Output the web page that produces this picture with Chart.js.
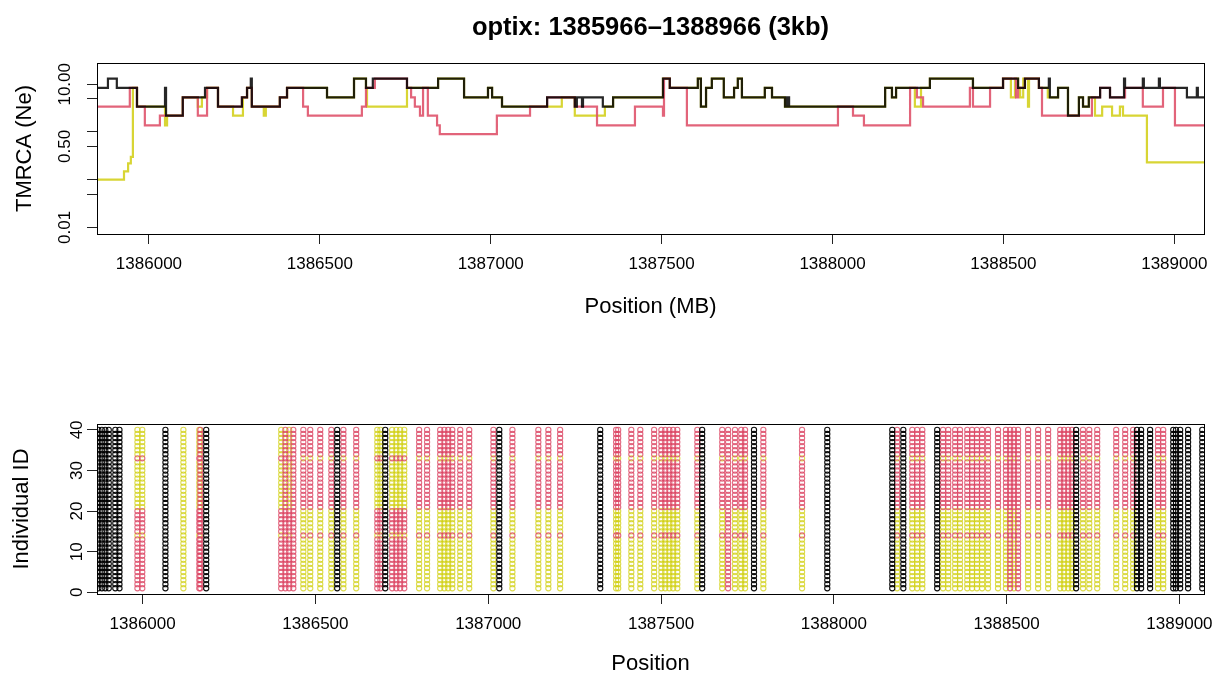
<!DOCTYPE html>
<html>
<head>
<meta charset="utf-8">
<script src="https://cdn.jsdelivr.net/npm/chart.js@4.4.1/dist/chart.umd.min.js"></script>
<style>
  body { margin: 0; background: #fff; }
  #top { position: absolute; left: 0; top: 0; }
  #bot { position: absolute; left: 0; top: 340px; }
</style>
</head>
<body>
<canvas id="top" width="1223" height="340"></canvas>
<canvas id="bot" width="1223" height="337"></canvas>
<script>
// TMRCA step lines: [start position, TMRCA]
const blackSteps = [[1385848,8.4],[1385880,13.1],[1385906,8.4],[1385965,3.4],[1386047,8.4],[1386050,2.2],[1386099,5.3],[1386164,8.4],[1386202,3.4],[1386272,5.3],[1386287,8.4],[1386298,13.1],[1386301,3.4],[1386383,5.3],[1386404,8.4],[1386521,5.3],[1386600,13.1],[1386635,8.4],[1386655,13.1],[1386755,8.4],[1386846,13.1],[1386922,5.3],[1386992,8.4],[1387004,5.3],[1387033,3.4],[1387165,5.3],[1387246,3.4],[1387252,5.3],[1387267,3.4],[1387270,5.3],[1387328,3.4],[1387358,5.3],[1387504,13.1],[1387524,8.4],[1387606,13.1],[1387615,3.4],[1387630,8.4],[1387647,13.1],[1387682,5.3],[1387712,8.4],[1387723,13.1],[1387735,5.3],[1387802,8.4],[1387823,5.3],[1387861,3.4],[1387867,5.3],[1387873,3.4],[1388154,8.4],[1388174,5.3],[1388186,8.4],[1388285,13.1],[1388411,8.4],[1388499,13.1],[1388543,8.4],[1388563,13.1],[1388604,8.4],[1388633,13.1],[1388636,5.3],[1388660,8.4],[1388689,2.2],[1388721,5.3],[1388733,3.4],[1388750,5.3],[1388783,8.4],[1388812,5.3],[1388853,13.1],[1388856,8.4],[1388908,13.1],[1388911,8.4],[1388955,13.1],[1388958,8.4],[1389037,5.3],[1389066,8.4],[1389069,5.3],[1389087,5.3]];
const redSteps = [[1385848,3.4],[1385944,8.4],[1385965,3.4],[1385988,1.38],[1386032,2.2],[1386099,5.3],[1386143,2.2],[1386170,8.4],[1386202,3.4],[1386272,5.3],[1386287,8.4],[1386301,3.4],[1386383,5.3],[1386404,8.4],[1386451,3.4],[1386465,2.2],[1386623,3.4],[1386635,8.4],[1386661,13.1],[1386755,8.4],[1386767,5.3],[1386778,3.4],[1386793,2.2],[1386802,8.4],[1386816,2.2],[1386843,1.38],[1386851,0.9],[1387018,2.2],[1387115,3.4],[1387165,5.3],[1387246,3.4],[1387311,1.38],[1387422,3.4],[1387504,2.2],[1387507,13.1],[1387524,8.4],[1387574,1.38],[1388016,3.4],[1388060,2.2],[1388092,1.38],[1388227,8.4],[1388247,5.3],[1388265,3.4],[1388402,8.4],[1388411,3.4],[1388461,8.4],[1388499,13.1],[1388537,5.3],[1388543,8.4],[1388563,13.1],[1388604,8.4],[1388613,2.2],[1388759,5.3],[1388783,8.4],[1388812,5.3],[1388856,8.4],[1388908,3.4],[1388967,8.4],[1389002,1.38],[1389087,1.38]];
const yellowSteps = [[1385848,0.1],[1385927,0.15],[1385939,0.22],[1385947,0.3],[1385953,8.4],[1385965,3.4],[1386047,1.38],[1386053,2.2],[1386099,5.3],[1386143,3.4],[1386155,5.3],[1386170,8.4],[1386202,3.4],[1386246,2.2],[1386275,5.3],[1386287,8.4],[1386301,3.4],[1386336,2.2],[1386342,3.4],[1386383,5.3],[1386404,8.4],[1386521,5.3],[1386600,13.1],[1386635,8.4],[1386638,3.4],[1386755,8.4],[1386846,13.1],[1386922,5.3],[1386992,8.4],[1387004,5.3],[1387033,3.4],[1387208,5.3],[1387246,2.2],[1387334,3.4],[1387358,5.3],[1387504,13.1],[1387524,8.4],[1387606,13.1],[1387615,3.4],[1387630,8.4],[1387647,13.1],[1387682,5.3],[1387712,8.4],[1387723,13.1],[1387735,5.3],[1387802,8.4],[1387823,5.3],[1387861,3.4],[1388154,8.4],[1388174,5.3],[1388186,8.4],[1388241,3.4],[1388259,8.4],[1388285,13.1],[1388411,8.4],[1388499,13.1],[1388522,5.3],[1388534,13.1],[1388543,8.4],[1388549,5.3],[1388558,13.1],[1388572,3.4],[1388575,13.1],[1388604,8.4],[1388630,5.3],[1388660,8.4],[1388689,2.2],[1388721,5.3],[1388733,3.4],[1388750,5.3],[1388768,2.2],[1388789,3.4],[1388818,2.2],[1388841,3.4],[1388850,2.2],[1388920,0.23],[1389087,0.23]];

// sites: B = all black, R = group A red / rest yellow, Y = group A yellow / rest red, r = all red, y = all yellow
const sitePos = [1385872,1385882,1385892,1385902,1385921,1385933,1385985,1385999,1386066,1386118,1386164,1386167,1386184,1386401,1386413,1386424,1386436,1386465,1386485,1386514,1386546,1386563,1386581,1386618,1386679,1386688,1386702,1386722,1386734,1386745,1386757,1386800,1386823,1386861,1386873,1386884,1386896,1386919,1386945,1387015,1387032,1387070,1387145,1387174,1387208,1387324,1387370,1387376,1387414,1387440,1387480,1387501,1387512,1387524,1387535,1387547,1387605,1387619,1387677,1387694,1387714,1387732,1387743,1387769,1387796,1387908,1387981,1388169,1388183,1388201,1388227,1388241,1388256,1388299,1388316,1388331,1388351,1388365,1388386,1388400,1388414,1388429,1388446,1388475,1388498,1388510,1388521,1388533,1388562,1388591,1388620,1388655,1388666,1388678,1388689,1388701,1388721,1388739,1388762,1388817,1388843,1388866,1388877,1388889,1388915,1388938,1388953,1388982,1388990,1389002,1389025,1389066];
const siteType = "BBBBBBYYByYrBYrYrRRRRBRRYYBYYYYRRRRRRRRRBRRRRBRRRRRRRRRRRBRrRRRBRRBBRBRRRBRRRRRRRRRRRrRrRRRRRRRBRRRRRRBBBRRBBBBB";
const groupA = [14,21,22,23,24,25,26,27,28,29,30,31,32,34,35,36,37,38,39,40];
const individuals = [1,2,3,4,5,6,7,8,9,10,11,12,13,14,15,16,17,18,19,20,21,22,23,24,25,26,27,28,29,30,31,32,33,34,35,36,37,38,39,40];

const xTicks = [1386000,1386500,1387000,1387500,1388000,1388500,1389000];
const tmrcaTicks = [0.01,0.05,0.1,0.5,1,5,10];
const tmrcaLabels = ["0.01","","","0.50","","","10.00"];
const idTicks = [0,10,20,30,40];

const FONT = "'Liberation Sans', Arial, sans-serif";
const RED = "rgba(223,83,107,0.9)";
const YEL = "rgba(212,208,30,0.9)";
const BLK = "rgba(0,0,0,0.85)";

const boxPlugin = {
  id: "box",
  afterDraw(chart) {
    const a = chart.chartArea, ctx = chart.ctx;
    ctx.save();
    ctx.strokeStyle = "#000";
    ctx.lineWidth = 1;
    ctx.strokeRect(Math.round(a.left) + 0.5, Math.round(a.top) + 0.5, Math.round(a.right - a.left), Math.round(a.bottom - a.top));
    ctx.restore();
  }
};
const titlePlugin = {
  id: "maintitle",
  afterDraw(chart) {
    const ctx = chart.ctx;
    ctx.save();
    ctx.font = "bold 25.5px " + FONT;
    ctx.fillStyle = "#000";
    ctx.textAlign = "center";
    ctx.textBaseline = "middle";
    ctx.fillText("optix: 1385966\u20131388966 (3kb)", (chart.chartArea.left + chart.chartArea.right) / 2, 28);
    ctx.restore();
  }
};

function xAxis(min, max, height, titleText, titlePad) {
  return {
    type: "linear", position: "bottom", min: min, max: max,
    afterBuildTicks: s => { s.ticks = xTicks.map(v => ({ value: v })); },
    afterFit: s => { s.height = height; },
    grid: { drawOnChartArea: false, tickLength: 10, color: "#222" },
    border: { display: false },
    ticks: { autoSkip: false, maxRotation: 0, padding: 10, color: "#000", font: { family: FONT, size: 17 }, callback: v => String(v) },
    title: { display: true, text: titleText, color: "#000", font: { family: FONT, size: 22 }, padding: { bottom: titlePad } }
  };
}
function yAxisCommon(titleText, titlePad) {
  return {
    afterFit: s => { s.width = 97; },
    grid: { drawOnChartArea: false, tickLength: 10, color: "#222" },
    border: { display: false },
    title: { display: true, text: titleText, color: "#000", font: { family: FONT, size: 22 }, padding: { top: titlePad } }
  };
}

const stepLine = (steps, color) => ({
  data: steps.map(s => ({ x: s[0], y: s[1] })),
  borderColor: color, borderWidth: 2.2, stepped: true, pointRadius: 0, fill: false
});

new Chart(document.getElementById("top"), {
  type: "line",
  data: { datasets: [stepLine(blackSteps, BLK), stepLine(redSteps, RED), stepLine(yellowSteps, YEL)] },
  options: {
    responsive: false, animation: false, events: [],
    layout: { padding: { top: 63, right: 19, left: 0, bottom: 0 } },
    plugins: { legend: { display: false }, tooltip: { enabled: false } },
    scales: {
      x: xAxis(1385848, 1389087, 106, "Position (MB)", 20),
      y: Object.assign(yAxisCommon("TMRCA (Ne)", 12), {
        type: "logarithmic", min: 0.00727, max: 27.96,
        afterBuildTicks: s => { s.ticks = tmrcaTicks.map(v => ({ value: v })); },
        ticks: { autoSkip: false, minRotation: 90, maxRotation: 90, crossAlign: "center", padding: 0, color: "#000", font: { family: FONT, size: 17 },
          callback: v => tmrcaLabels[tmrcaTicks.indexOf(v)] ?? "" }
      })
    }
  },
  plugins: [boxPlugin, titlePlugin]
});

// build the genotype points per site and individual
const blackPts = [], redPts = [], yelPts = [];
sitePos.forEach((p, i) => {
  const t = siteType[i];
  individuals.forEach(id => {
    const inA = groupA.includes(id);
    const pt = { x: p, y: id };
    if (t === "B") blackPts.push(pt);
    else if (t === "r") redPts.push(pt);
    else if (t === "y") yelPts.push(pt);
    else if (t === "R") (inA ? redPts : yelPts).push(pt);
    else (inA ? yelPts : redPts).push(pt);
  });
});
const ring = (pts, color) => ({
  data: pts, showLine: false, pointStyle: "circle", pointRadius: 2.6, borderWidth: 1.1,
  pointBorderColor: color, pointBackgroundColor: "rgba(0,0,0,0)", borderColor: color
});

new Chart(document.getElementById("bot"), {
  type: "scatter",
  data: { datasets: [ring(blackPts, "rgba(0,0,0,0.95)"), ring(redPts, "rgba(220,70,100,0.8)"), ring(yelPts, "rgba(210,208,20,0.75)")] },
  options: {
    responsive: false, animation: false, events: [],
    layout: { padding: { top: 84, right: 19, left: 0, bottom: 0 } },
    plugins: { legend: { display: false }, tooltip: { enabled: false } },
    scales: {
      x: xAxis(1385868, 1389071, 83, "Position", 0),
      y: Object.assign(yAxisCommon("Individual ID", 9), {
        type: "linear", min: -0.42, max: 41.45,
        afterBuildTicks: s => { s.ticks = idTicks.map(v => ({ value: v })); },
        ticks: { autoSkip: false, minRotation: 90, maxRotation: 90, crossAlign: "center", padding: 0, color: "#000", font: { family: FONT, size: 17 },
          callback: v => String(v) }
      })
    }
  },
  plugins: [boxPlugin]
});
</script>
</body>
</html>
